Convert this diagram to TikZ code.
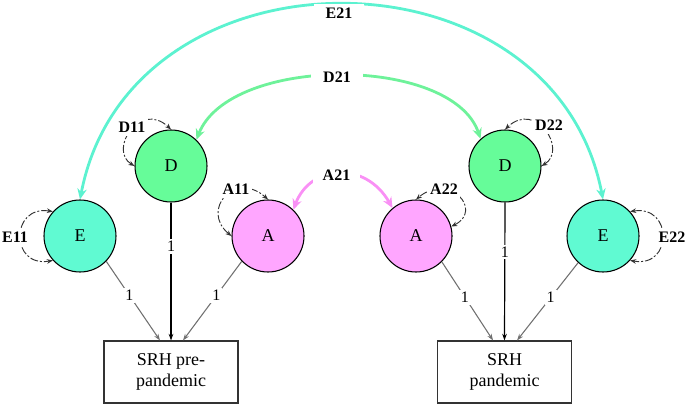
\documentclass[tikz,border=0pt]{standalone}
\usepackage{fontspec}
\setmainfont{Liberation Serif}
\usetikzlibrary{arrows.meta}
\definecolor{efill}{HTML}{60FAD2}
\definecolor{dfill}{HTML}{66FC99}
\definecolor{afill}{HTML}{FFA6FF}
\definecolor{earc}{HTML}{5CF2D0}
\definecolor{darc}{HTML}{6EF29A}
\definecolor{aarc}{HTML}{F990F5}
\definecolor{loopc}{HTML}{333333}
\definecolor{pathc}{HTML}{707070}
\begin{document}
\begin{tikzpicture}[x=0.75pt,y=-0.75pt,
  lat/.style={circle,draw=black,line width=0.8pt,minimum size=54pt,inner sep=0pt,font=\fontsize{13.5}{16}\selectfont},
  obs/.style={rectangle,draw=loopc,line width=0.8pt,minimum width=100.5pt,minimum height=46.5pt,align=center,font=\fontsize{13.5}{16}\selectfont},
  lab/.style={font=\bfseries\fontsize{12}{14}\selectfont,fill=white,inner xsep=2pt,inner ysep=3pt},
  arclab/.style={font=\bfseries\fontsize{12}{14}\selectfont,fill=white,inner xsep=9pt,inner ysep=3pt},
  one/.style={font=\fontsize{12}{14}\selectfont,fill=white,inner sep=1.5pt},
  loopline/.style={draw=loopc,line width=0.7pt,dash pattern=on 6pt off 1.5pt on 1.5pt off 1.5pt,{Stealth[length=4.5pt,width=3.5pt]}-{Stealth[length=4.5pt,width=3.5pt]}},
  graypath/.style={draw=pathc,line width=0.8pt,-{Stealth[length=5pt,width=3.5pt]}},
  blackpath/.style={draw=black,line width=0.9pt,-{Stealth[length=5pt,width=3.5pt]}},
  covarc/.style={line width=2.1pt,{Stealth[length=8pt,width=7pt]}-{Stealth[length=8pt,width=7pt]}}
]
\useasboundingbox (0,0) rectangle (688,406);

% latent nodes
\node[lat,fill=efill] (El) at (80,236) {E};
\node[lat,fill=dfill] (Dl) at (171,166) {D};
\node[lat,fill=afill] (Al) at (268,236) {A};
\node[lat,fill=afill] (Ar) at (416,236) {A};
\node[lat,fill=dfill] (Dr) at (505,166) {D};
\node[lat,fill=efill] (Er) at (603,236) {E};

% observed boxes
\node[obs] (B1) at (171,372) {SRH pre-\\pandemic};
\node[obs] (B2) at (504.5,372) {SRH\\pandemic};

\coordinate (b1l) at ([xshift=-8.25pt]B1.north);
\coordinate (b1m) at (B1.north);
\coordinate (b1r) at ([xshift=9pt]B1.north);
\coordinate (b2l) at ([xshift=-8.6pt]B2.north);
\coordinate (b2m) at (B2.north);
\coordinate (b2r) at ([xshift=9.4pt]B2.north);

% paths to boxes
\draw[graypath] (El.-44) -- node[one,pos=0.43] {1} (b1l);
\draw[blackpath] (Dl.south) -- node[one,pos=0.32] {1} (b1m);
\draw[graypath] (Al.-136) -- node[one,pos=0.43] {1} (b1r);
\draw[graypath] (Ar.-45) -- node[one,pos=0.45] {1} (b2l);
\draw[blackpath] (Dr.south) -- node[one,pos=0.36] {1} (b2m);
\draw[graypath] (Er.-133) -- node[one,pos=0.45] {1} (b2r);

% covariance arcs
\draw[covarc,draw=earc,fill=none] (El.north) .. controls (130,-60) and (553,-60) .. (Er.north);
\draw[covarc,draw=darc] (Dl.46) .. controls (230,55) and (452,55) .. (Dr.132);
\draw[covarc,draw=aarc] (Al.46) .. controls (310,165) and (365,160) .. (Ar.130);
\node[arclab] (E21) at (339,13) {E21};
\node[arclab] (D21) at (337,77) {D21};
\node[arclab,inner xsep=7pt] (A21) at (336.5,175) {A21};

% variance loops
\draw[loopline] (El.138) .. controls (10,205) and (10,268) .. (El.222);
\draw[loopline] (Er.42) .. controls (673,205) and (673,268) .. (Er.318);
\draw[loopline] (Dl.180) .. controls (108,150) and (140,100) .. (Dl.90);
\draw[loopline] (Dr.0) .. controls (568,150) and (536,100) .. (Dr.90);
\draw[loopline] (Al.180) .. controls (200,210) and (235,170) .. (Al.90);
\draw[loopline] (Ar.15) .. controls (484,210) and (449,172) .. (Ar.90);

\node[lab] (E11) at (15,237) {E11};
\node[lab] (E22) at (672,237) {E22};
\node[lab] (D11) at (132,127) {D11};
\node[lab] (D22) at (549,125) {D22};
\node[lab] (A11) at (236,189) {A11};
\node[lab] (A22) at (444,189) {A22};
\end{tikzpicture}
\end{document}
